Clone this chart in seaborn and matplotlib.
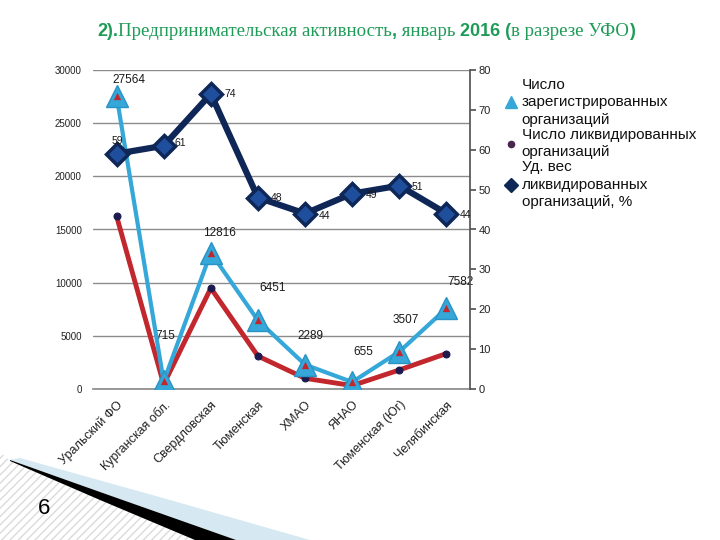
import numpy as np
import pandas as pd
import matplotlib
matplotlib.use("Agg")
import matplotlib.pyplot as plt
import seaborn as sns
from matplotlib.patches import Polygon
from matplotlib.lines import Line2D

categories = ["Уральский ФО", "Курганская обл.", "Свердловская", "Тюменская",
              "ХМАО", "ЯНАО", "Тюменская (Юг)", "Челябинская"]
registered = [27564, 715, 12816, 6451, 2289, 655, 3507, 7582]
liquidated = [16263, 436, 9484, 3096, 1007, 321, 1789, 3336]
share = [59, 61, 74, 48, 44, 49, 51, 44]
left_ticks = [0, 5000, 10000, 15000, 20000, 25000, 30000]
right_ticks = [0, 10, 20, 30, 40, 50, 60, 70, 80]
legend_labels = ["Число\nзарегистрированных\nорганизаций",
                 "Число ликвидированных\nорганизаций",
                 "Уд. вес\nликвидированных\nорганизаций, %"]

sns.set_theme(style="white")
plt.rcParams["font.family"] = ["Liberation Sans", "DejaVu Sans"]

W, H = 720, 540
def fx(x): return x / W
def fy(y): return 1 - y / H

navy = "#0E2757"
dfill = "#1F4F9C"
blue = "#35A7D8"
red = "#C1272D"
dot = "#1C1A4E"
green = "#1E9B57"

fig = plt.figure(figsize=(7.2, 5.4), dpi=100)

# slide decoration
hatch = Polygon([(fx(0), fy(452)), (fx(10), fy(461)), (fx(100), fy(500)), (fx(195), fy(540)), (fx(0), fy(540))],
                closed=True, transform=fig.transFigure, facecolor="white", edgecolor="#DADADA",
                hatch="////", lw=0, zorder=0)
lblue = Polygon([(fx(20), fy(458)), (fx(170), fy(500)), (fx(310), fy(540)), (fx(236), fy(540)),
                 (fx(100), fy(492)), (fx(10), fy(460))],
                closed=True, transform=fig.transFigure, facecolor="#D6E8F1", lw=0, zorder=0)
black = Polygon([(fx(10), fy(460)), (fx(100), fy(492)), (fx(236), fy(540)), (fx(195), fy(540)),
                 (fx(100), fy(500)), (fx(10), fy(461))],
                closed=True, transform=fig.transFigure, facecolor="black", lw=0, zorder=0)
for p in (hatch, lblue, black):
    fig.patches.append(p)

ax = fig.add_axes([fx(93), 151 / H, 377 / W, 319 / H])
ax2 = ax.twinx()

df = pd.DataFrame({"pos": np.arange(len(categories)), "cat": categories,
                   "reg": registered, "liq": liquidated, "share": share})

sns.lineplot(data=df, x="pos", y="liq", ax=ax, color=red, lw=3.5, marker="o", markersize=5,
             markerfacecolor=dot, markeredgecolor=dot, zorder=3)
sns.lineplot(data=df, x="pos", y="reg", ax=ax, color=blue, lw=3, marker="^", markersize=16,
             markerfacecolor=blue, markeredgecolor="#2A93C6", markeredgewidth=1, zorder=4)
sns.scatterplot(data=df, x="pos", y="reg", ax=ax, marker="^", s=28, color=red, edgecolor=None,
                linewidth=0, zorder=5)
sns.lineplot(data=df, x="pos", y="share", ax=ax2, color=navy, lw=4.5, marker="D", markersize=11,
             markerfacecolor=dfill, markeredgecolor=navy, markeredgewidth=2.5, zorder=3)

ax.set_xlim(-0.5, len(categories) - 0.5)
ax.set_ylim(0, 30000)
ax2.set_ylim(0, 80)
ax.set_yticks(left_ticks)
ax.set_yticklabels([str(t) for t in left_ticks])
ax2.set_yticks(right_ticks)
ax2.set_yticklabels([str(t) for t in right_ticks])
ax.set_xticks(df["pos"])
ax.set_xticklabels(categories, rotation=45, ha="right", rotation_mode="anchor", fontsize=9)
ax.set_xlabel("")
ax.set_ylabel("")
ax2.set_ylabel("")
ax.yaxis.grid(True, color="#8C8C8C", lw=1)
ax.set_axisbelow(True)

for s in ["left", "top", "right"]:
    ax.spines[s].set_visible(False)
ax.spines["bottom"].set_color("#8C8C8C")
for s in ["left", "top", "bottom"]:
    ax2.spines[s].set_visible(False)
ax2.spines["right"].set_color("#555555")
ax.tick_params(axis="y", length=0, pad=8, labelsize=7, labelcolor="#222222")
ax.tick_params(axis="x", length=0, pad=7, labelcolor="#222222")
ax2.tick_params(axis="y", length=4, direction="out", color="#555555", labelsize=8, pad=2,
                labelcolor="#222222")

# data labels
reg_off = [(12, 16), (2, 45), (9, 20), (15, 32), (5, 29), (11, 30), (6, 32), (14, 26)]
for i, v in enumerate(registered):
    ox, oy = reg_off[i]
    ax.annotate(str(v), (i, v), xytext=(ox * 0.72, oy * 0.72), textcoords="offset points",
                ha="center", va="center", fontsize=8.5, color="#1A1A1A")
sh_off = [(1, 13), (17, 3), (19, 0), (19, 0), (19, -2), (19, -1), (18, -1), (19, -1)]
for i, v in enumerate(share):
    ox, oy = sh_off[i]
    ax2.annotate(str(v), (i, v), xytext=(ox * 0.72, oy * 0.72), textcoords="offset points",
                 ha="center", va="center", fontsize=7.5, color="#1A1A1A")

handles = [Line2D([], [], ls="none", marker="^", markersize=9, color=blue),
           Line2D([], [], ls="none", marker="o", markersize=4.5, color="#4A2550"),
           Line2D([], [], ls="none", marker="D", markersize=7, color=navy)]
leg = ax2.legend(handles, legend_labels, loc="upper left", bbox_to_anchor=(fx(505), fy(78)),
                 bbox_transform=fig.transFigure, frameon=False, fontsize=11, handlelength=0.8,
                 handletextpad=0.3, labelspacing=0.08, borderaxespad=0, borderpad=0)
for t in leg.get_texts():
    t.set_color("#111111")
    t.set_linespacing(1.3)

# title with mixed fonts
pieces = [("2).", "Liberation Sans", "bold"),
          ("Предпринимательская активность", "Liberation Serif", "normal"),
          (",", "Liberation Sans", "bold"),
          (" январь ", "Liberation Serif", "normal"),
          ("2016 (", "Liberation Sans", "bold"),
          ("в разрезе УФО", "Liberation Serif", "normal"),
          (")", "Liberation Sans", "bold")]
renderer = fig.canvas.get_renderer()
x = fx(97)
for txt, fam, wt in pieces:
    size = 13 if wt == "bold" else 13.6
    t = fig.text(x, fy(36), txt, family=fam, weight=wt, fontsize=size, color=green,
                 ha="left", va="baseline")
    bb = t.get_window_extent(renderer)
    x = bb.x1 / fig.bbox.width

fig.text(fx(38), fy(508), "6", fontsize=16, color="black", ha="left", va="center")

fig.savefig("out.png", dpi=100)
